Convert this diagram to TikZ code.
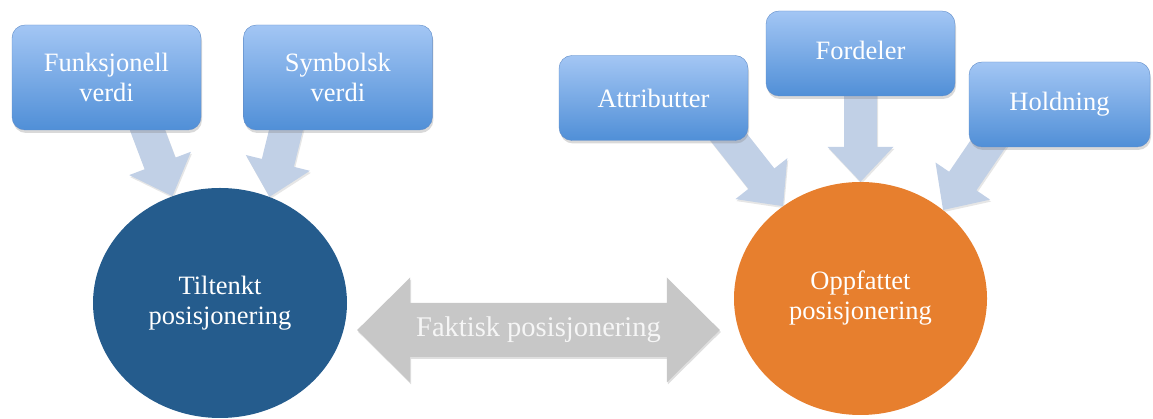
\documentclass[tikz,border=0pt]{standalone}
\usepackage{fontspec}
\setmainfont{Liberation Serif}
\usetikzlibrary{calc,positioning,shapes.geometric,shadows,backgrounds}
\definecolor{boxtop}{RGB}{163,198,244}
\definecolor{boxbottom}{RGB}{80,143,215}
\definecolor{boxline}{RGB}{95,140,200}
\definecolor{flowblue}{RGB}{193,208,230}
\definecolor{navy}{RGB}{37,92,141}
\definecolor{pumpkin}{RGB}{231,127,46}
\definecolor{fpgray}{RGB}{199,199,199}
\definecolor{fptext}{RGB}{246,246,246}
% fat block arrow from #1 to #2 (tip at #2)
\newcommand{\fatarrow}[2]{%
  \coordinate (fa-b) at ($(#2)!35pt!(#1)$);
  \fill[flow] ($(#1)!16.5pt!90:(#2)$) -- ($(fa-b)!16.5pt!-90:(#1)$)
    -- ($(fa-b)!33pt!-90:(#1)$) -- (#2) -- ($(fa-b)!33pt!90:(#1)$)
    -- ($(fa-b)!16.5pt!90:(#1)$) -- ($(#1)!16.5pt!-90:(#2)$) -- cycle;}

\begin{document}
\begin{tikzpicture}[x=1pt,y=1pt,font=\fontsize{26.5}{30}\selectfont]
\tikzset{box/.style={draw=boxline,rounded corners=13pt,top color=boxtop,bottom color=boxbottom,
minimum width=189pt,minimum height=85pt,align=center,text=white,
drop shadow={opacity=0.3,shadow xshift=1pt,shadow yshift=-3pt}},
disc/.style={ellipse,inner sep=0pt,align=center,text=white,minimum width=254pt,minimum height=230pt},
flow/.style={fill=flowblue,drop shadow={opacity=0.2,shadow xshift=1pt,shadow yshift=-2pt}}}
\useasboundingbox (0,0) rectangle (1153,419);
\node[box,minimum height=105pt] (f) at (106.5,341.5) {Funksjonell\\verdi};
\node[box,minimum height=105pt,right=42pt of f] (s) {Symbolsk\\verdi};
\node[box] (a) at (653.5,321) {Attributter};
\node[box] (d) at (860.5,365.5) {\raisebox{7pt}{Fordeler}};
\node[box,minimum width=181pt] (h) at (1059.5,314.5) {\raisebox{6pt}{Holdning}};
\node[disc,fill=navy] (t) at (220,116) {Tiltenkt\\posisjonering};
\node[disc,fill=pumpkin,minimum width=253pt,minimum height=233pt] (o) at (860.5,120.5) {Oppfattet\\posisjonering};
\node[text=fptext,font=\fontsize{28.5}{32}\selectfont] (fp) at (538.5,89) {Faktisk posisjonering};
\coordinate (f-out) at ($(f.south)+(38,8)$);
\coordinate (s-out) at ($(s.south)+(-50,8)$);
\coordinate (a-out) at ($(a.south)+(68.5,12)$);
\coordinate (d-out) at ($(d.south)+(0,10)$);
\coordinate (h-out) at ($(h.south)+(-65.5,12)$);
\coordinate (fp-l) at ($(t.east |- fp)+(10,0)$);
\coordinate (fp-r) at ($(o.west |- fp)+(-14,0)$);
\begin{scope}[on background layer]
\fatarrow{f-out}{t.114}
\fatarrow{s-out}{t.65}
\fatarrow{a-out}{o.130.6}
\fatarrow{d-out}{o.90}
\fatarrow{h-out}{o.47.6}
\fill[fpgray,drop shadow={opacity=0.25,shadow xshift=1pt,shadow yshift=-2pt}]
  (fp-l) -- ++(53,52.5) -- ++(0,-25.5) -- ($(fp-r)+(-53,27)$) -- ++(0,25.5) -- (fp-r)
  -- ++(-53,-52.5) -- ++(0,25.5) -- ($(fp-l)+(53,-27)$) -- ++(0,-25.5) -- cycle;
\end{scope}
\end{tikzpicture}
\end{document}
